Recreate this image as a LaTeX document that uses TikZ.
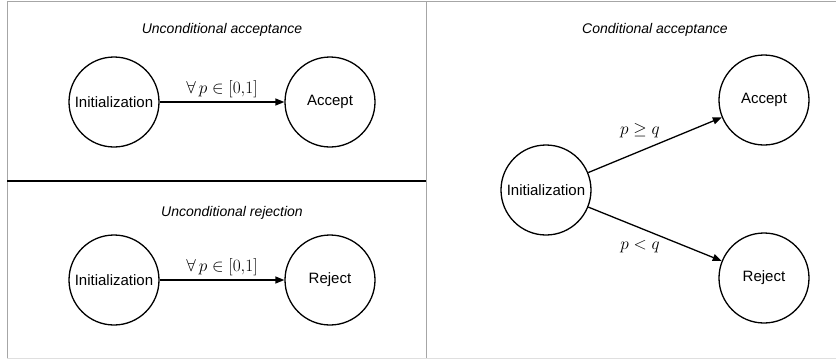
\documentclass[tikz,border=0pt]{standalone}
\usepackage{fontspec}
\setmainfont{Liberation Sans}
\usetikzlibrary{positioning, arrows.meta}

\begin{document}
\begin{tikzpicture}[
    x=1pt, y=-1pt,
    zustand/.style={circle, draw, line width=1.3pt, minimum size=90pt, inner sep=0pt,
      font=\fontsize{15}{18}\selectfont},
    titel/.style={font=\fontsize{14}{17}\selectfont\itshape},
    bedingung/.style={font=\fontsize{18}{21}\selectfont},
    pfeil/.style={-{Triangle[length=9pt, width=7pt]}, line width=1.3pt},
    rahmen/.style={gray!70, line width=1pt},
  ]

  \useasboundingbox (0, 0) rectangle (836, 360);

  % frame
  \draw[rahmen] (7, 358) -- (7, 1.5) -- (836, 1.5);
  \draw[gray!25, line width=1pt] (7, 358) -- (836, 358);
  \draw[rahmen] (426, 1.5) -- (426, 358);
  \draw[black, line width=1.3pt] (7, 181) -- (426, 181);

  % unconditional acceptance
  \node[titel] (t1) at (222, 30) {Unconditional acceptance};
  \node[zustand] (init1) at (114, 102) {Initialization};
  \node[zustand] (acc1) at (330, 102) {Accept};
  \draw[pfeil] (init1) -- node[bedingung, above=0pt] {$\forall\, p \in [0{,}1]$} (acc1);

  % unconditional rejection
  \node[titel] (t2) at (232, 213) {Unconditional rejection};
  \node[zustand] (init2) at (114, 280) {Initialization};
  \node[zustand] (rej2) at (330, 280) {Reject};
  \draw[pfeil] (init2) -- node[bedingung, above=0pt] {$\forall\, p \in [0{,}1]$} (rej2);

  % conditional acceptance
  \node[titel] (t3) at (655, 30) {Conditional acceptance};
  \node[zustand] (init3) at (546, 190) {Initialization};
  \node[zustand] (acc3) at (764, 100) {Accept};
  \node[zustand] (rej3) at (764, 278) {Reject};
  \draw[pfeil] (init3) -- (acc3);
  \draw[pfeil] (init3) -- (rej3);
  \node[bedingung] (c1) at (640, 131) {$p \geq q$};
  \node[bedingung] (c2) at (640, 247) {$p < q$};
\end{tikzpicture}
\end{document}
